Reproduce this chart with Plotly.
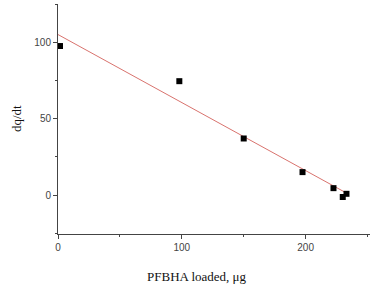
import plotly.graph_objects as go

x_loaded = [1.6, 98, 150, 197.5, 222.5, 230, 233]
dqdt = [97.5, 74.5, 37, 15, 4.5, -1.3, 0.8]
fit_x = [0, 235]
fit_y = [105, 0.4]

fig = go.Figure()
fig.add_trace(go.Scatter(x=fit_x, y=fit_y, mode="lines",
                         line=dict(color="#d9736e", width=1), showlegend=False))
fig.add_trace(go.Scatter(x=x_loaded, y=dqdt, mode="markers",
                         marker=dict(symbol="square", size=6, color="black"),
                         showlegend=False))

axis_common = dict(showline=True, linecolor="#444", linewidth=1, showgrid=False,
                   zeroline=False, ticks="outside", ticklen=4, tickcolor="#444",
                   automargin=False,
                   tickfont=dict(family="Liberation Sans, Arial", size=10, color="#444"))

title_font = dict(family="Liberation Serif, Times New Roman", size=13, color="#111")

fig.update_layout(
    width=377, height=287,
    margin=dict(l=58, r=7, t=4, b=53),
    paper_bgcolor="white", plot_bgcolor="white",
    xaxis=dict(range=[0, 252], dtick=100, tick0=0,
               minor=dict(dtick=50, ticks="outside", ticklen=2, tickcolor="#444"),
               **axis_common),
    yaxis=dict(range=[-25.5, 125], dtick=50, tick0=0,
               minor=dict(dtick=25, ticks="outside", ticklen=2, tickcolor="#444"),
               **axis_common),
    annotations=[
        dict(text="PFBHA loaded, μg", xref="paper", yref="paper", x=0.4455, y=0,
             yshift=-42, xanchor="center", yanchor="middle", showarrow=False,
             font=title_font),
        dict(text="dq/dt", xref="paper", yref="paper", x=0, y=0.5, xshift=-42,
             textangle=-90, xanchor="center", yanchor="middle", showarrow=False,
             font=title_font),
    ],
)

fig.write_html("out.html", config={"displayModeBar": False},
               post_script="document.body.style.margin='0';")
